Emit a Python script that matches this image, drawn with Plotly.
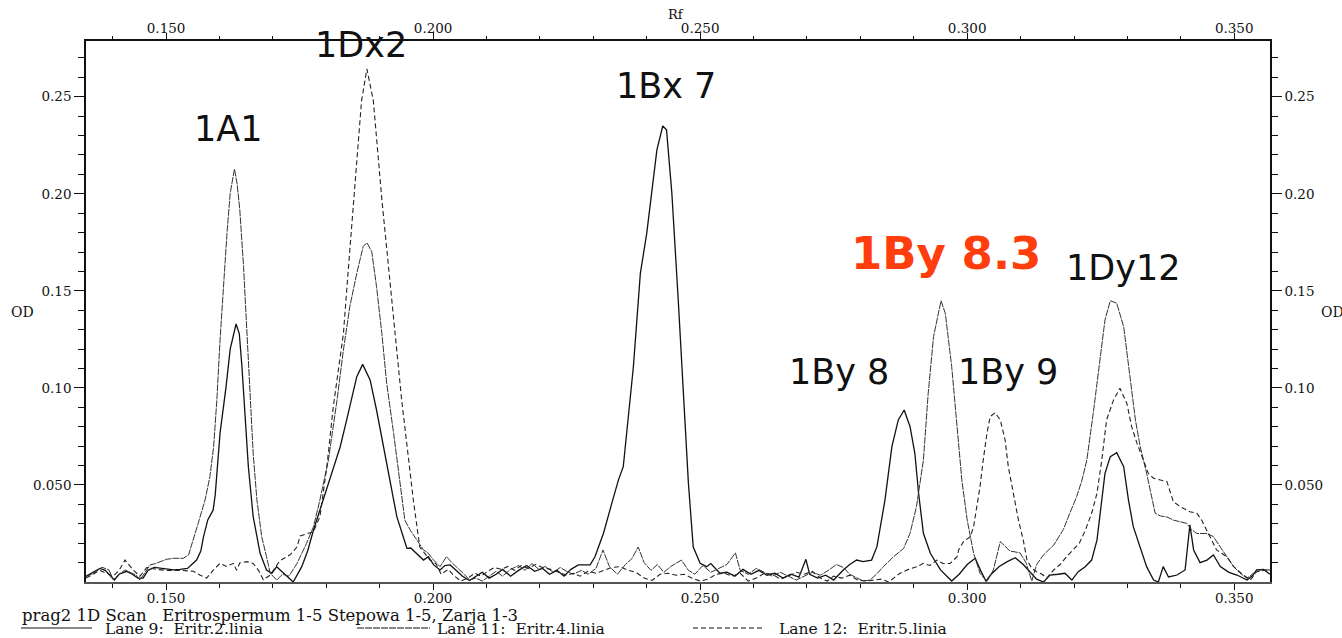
import plotly.graph_objects as go

# ---------------- data ----------------
lane9_rf = [0.1350, 0.1364, 0.1376, 0.1386, 0.1395, 0.1403, 0.1412, 0.1426, 0.1437, 0.1447,
            0.1457, 0.1466, 0.1478, 0.1489, 0.1501, 0.1514, 0.1526, 0.1540, 0.1550, 0.1557,
            0.1565, 0.1570, 0.1578, 0.1588, 0.1592, 0.1601, 0.1612, 0.1620, 0.1631, 0.1637,
            0.1642, 0.1648, 0.1654, 0.1663, 0.1676, 0.1688, 0.1698, 0.1707, 0.1723, 0.1738,
            0.1754, 0.1765, 0.1776, 0.1788, 0.1801, 0.1813, 0.1826, 0.1838, 0.1844, 0.1857,
            0.1868, 0.1882, 0.1894, 0.1907, 0.1919, 0.1932, 0.1944, 0.1951, 0.1958, 0.1969,
            0.1982, 0.1991, 0.2001, 0.2013, 0.2022, 0.2032, 0.2045, 0.2055, 0.2068, 0.2080,
            0.2092, 0.2105, 0.2118, 0.2130, 0.2145, 0.2160, 0.2175, 0.2190, 0.2205, 0.2218,
            0.2232, 0.2245, 0.2258, 0.2272, 0.2285, 0.2294, 0.2303, 0.2319, 0.2334, 0.2347,
            0.2356, 0.2366, 0.2375, 0.2388, 0.2400, 0.2419, 0.2430, 0.2437, 0.2447, 0.2459,
            0.2469, 0.2478, 0.2487, 0.2500, 0.2512, 0.2520, 0.2537, 0.2550, 0.2565, 0.2580,
            0.2595, 0.2610, 0.2625, 0.2640, 0.2655, 0.2670, 0.2685, 0.2698, 0.2705, 0.2720,
            0.2735, 0.2750, 0.2768, 0.2780, 0.2793, 0.2805, 0.2821, 0.2831, 0.2846, 0.2859,
            0.2871, 0.2882, 0.2893, 0.2902, 0.2909, 0.2918, 0.2931, 0.2950, 0.2971, 0.2985,
            0.3000, 0.3015, 0.3025, 0.3035, 0.3045, 0.3060, 0.3075, 0.3090, 0.3105, 0.3118,
            0.3130, 0.3143, 0.3155, 0.3170, 0.3183, 0.3196, 0.3208, 0.3221, 0.3233, 0.3243,
            0.3252, 0.3258, 0.3268, 0.3280, 0.3293, 0.3302, 0.3311, 0.3324, 0.3336, 0.3349,
            0.3358, 0.3367, 0.3377, 0.3393, 0.3408, 0.3417, 0.3424, 0.3436, 0.3449, 0.3461,
            0.3474, 0.3490, 0.3505, 0.3524, 0.3535, 0.3542, 0.3555, 0.3567]
lane9_od = [0.0030, 0.0050, 0.0070, 0.0060, 0.0035, 0.0010, 0.0040, 0.0055, 0.0040, 0.0020,
            0.0020, 0.0060, 0.0075, 0.0070, 0.0068, 0.0062, 0.0065, 0.0070, 0.0095, 0.0113,
            0.0160, 0.0233, 0.0320, 0.0370, 0.0450, 0.0767, 0.1000, 0.1200, 0.1329, 0.1280,
            0.1110, 0.0852, 0.0594, 0.0337, 0.0148, 0.0062, 0.0045, 0.0079, 0.0036, 0.0000,
            0.0079, 0.0160, 0.0268, 0.0371, 0.0474, 0.0577, 0.0697, 0.0834, 0.0903, 0.1058,
            0.1121, 0.1041, 0.0886, 0.0697, 0.0508, 0.0337, 0.0233, 0.0173, 0.0175, 0.0148,
            0.0113, 0.0130, 0.0088, 0.0062, 0.0085, 0.0088, 0.0055, 0.0030, 0.0008, 0.0030,
            0.0050, 0.0020, 0.0040, 0.0065, 0.0030, 0.0060, 0.0085, 0.0055, 0.0070, 0.0040,
            0.0060, 0.0030, 0.0065, 0.0088, 0.0088, 0.0088, 0.0130, 0.0251, 0.0400, 0.0526,
            0.0594, 0.0850, 0.1110, 0.1590, 0.1797, 0.2226, 0.2349, 0.2329, 0.2003, 0.1450,
            0.0940, 0.0509, 0.0180, 0.0096, 0.0079, 0.0095, 0.0045, 0.0050, 0.0030, 0.0065,
            0.0040, 0.0060, 0.0035, 0.0045, 0.0020, 0.0040, 0.0025, 0.0117, 0.0040, 0.0020,
            0.0035, 0.0010, 0.0062, 0.0090, 0.0113, 0.0105, 0.0113, 0.0182, 0.0422, 0.0697,
            0.0835, 0.0886, 0.0800, 0.0663, 0.0457, 0.0251, 0.0148, 0.0062, 0.0005, 0.0040,
            0.0090, 0.0122, 0.0060, 0.0005, 0.0040, 0.0080, 0.0105, 0.0125, 0.0090, 0.0050,
            0.0015, 0.0000, 0.0036, 0.0040, 0.0045, 0.0010, 0.0053, 0.0079, 0.0113, 0.0216,
            0.0422, 0.0560, 0.0646, 0.0666, 0.0594, 0.0422, 0.0285, 0.0180, 0.0079, 0.0010,
            0.0000, 0.0079, 0.0026, 0.0036, 0.0062, 0.0294, 0.0165, 0.0100, 0.0113, 0.0139,
            0.0079, 0.0050, 0.0036, 0.0010, 0.0035, 0.0062, 0.0065, 0.0040]

lane11_rf = [0.1350, 0.1364, 0.1380, 0.1393, 0.1401, 0.1412, 0.1423, 0.1434, 0.1444, 0.1451,
             0.1464, 0.1470, 0.1480, 0.1489, 0.1501, 0.1514, 0.1532, 0.1542, 0.1551, 0.1560,
             0.1573, 0.1582, 0.1589, 0.1595, 0.1601, 0.1607, 0.1614, 0.1620, 0.1628, 0.1633,
             0.1638, 0.1645, 0.1651, 0.1657, 0.1663, 0.1670, 0.1679, 0.1688, 0.1695, 0.1707,
             0.1718, 0.1730, 0.1745, 0.1763, 0.1776, 0.1788, 0.1804, 0.1820, 0.1832, 0.1844,
             0.1857, 0.1869, 0.1876, 0.1885, 0.1894, 0.1904, 0.1913, 0.1926, 0.1938, 0.1947,
             0.1957, 0.1969, 0.1982, 0.1991, 0.2001, 0.2013, 0.2025, 0.2035, 0.2045, 0.2058,
             0.2068, 0.2080, 0.2092, 0.2105, 0.2118, 0.2130, 0.2145, 0.2160, 0.2172, 0.2185,
             0.2198, 0.2210, 0.2225, 0.2238, 0.2250, 0.2262, 0.2278, 0.2290, 0.2305, 0.2318,
             0.2330, 0.2345, 0.2360, 0.2372, 0.2384, 0.2395, 0.2408, 0.2420, 0.2432, 0.2445,
             0.2465, 0.2478, 0.2490, 0.2505, 0.2520, 0.2535, 0.2550, 0.2566, 0.2575, 0.2590,
             0.2605, 0.2620, 0.2635, 0.2650, 0.2665, 0.2680, 0.2695, 0.2710, 0.2725, 0.2740,
             0.2755, 0.2768, 0.2780, 0.2793, 0.2805, 0.2818, 0.2830, 0.2843, 0.2862, 0.2881,
             0.2893, 0.2905, 0.2918, 0.2927, 0.2937, 0.2951, 0.2959, 0.2971, 0.2981, 0.2990,
             0.3000, 0.3012, 0.3024, 0.3037, 0.3049, 0.3062, 0.3080, 0.3099, 0.3110, 0.3121,
             0.3130, 0.3143, 0.3162, 0.3180, 0.3193, 0.3205, 0.3215, 0.3224, 0.3236, 0.3249,
             0.3258, 0.3268, 0.3280, 0.3293, 0.3305, 0.3315, 0.3324, 0.3336, 0.3352, 0.3362,
             0.3374, 0.3386, 0.3399, 0.3411, 0.3420, 0.3430, 0.3449, 0.3461, 0.3474, 0.3486,
             0.3499, 0.3511, 0.3524, 0.3536, 0.3549, 0.3567]
lane11_od = [0.0028, 0.0045, 0.0076, 0.0062, 0.0012, 0.0040, 0.0062, 0.0050, 0.0035, 0.0010,
             0.0062, 0.0088, 0.0095, 0.0105, 0.0117, 0.0122, 0.0122, 0.0139, 0.0216, 0.0302,
             0.0423, 0.0543, 0.0697, 0.0937, 0.1247, 0.1522, 0.1796, 0.2002, 0.2128, 0.2050,
             0.1917, 0.1625, 0.1280, 0.0937, 0.0663, 0.0423, 0.0234, 0.0130, 0.0045, 0.0010,
             0.0040, 0.0030, 0.0095, 0.0199, 0.0285, 0.0423, 0.0629, 0.0937, 0.1195, 0.1419,
             0.1590, 0.1728, 0.1748, 0.1702, 0.1522, 0.1280, 0.1024, 0.0766, 0.0508, 0.0319,
             0.0268, 0.0216, 0.0165, 0.0148, 0.0113, 0.0079, 0.0131, 0.0100, 0.0075, 0.0040,
             0.0010, 0.0020, 0.0005, 0.0030, 0.0055, 0.0030, 0.0065, 0.0085, 0.0060, 0.0095,
             0.0065, 0.0080, 0.0050, 0.0075, 0.0055, 0.0040, 0.0060, 0.0040, 0.0070, 0.0165,
             0.0080, 0.0040, 0.0090, 0.0120, 0.0180, 0.0100, 0.0060, 0.0090, 0.0050, 0.0080,
             0.0113, 0.0060, 0.0040, 0.0085, 0.0050, 0.0070, 0.0090, 0.0150, 0.0060, 0.0040,
             0.0070, 0.0050, 0.0030, 0.0050, 0.0030, 0.0010, 0.0030, 0.0050, 0.0035, 0.0060,
             0.0090, 0.0075, 0.0040, 0.0020, 0.0005, 0.0010, 0.0040, 0.0079, 0.0130, 0.0173,
             0.0251, 0.0388, 0.0628, 0.0972, 0.1264, 0.1449, 0.1384, 0.1110, 0.0800, 0.0525,
             0.0319, 0.0148, 0.0045, 0.0002, 0.0062, 0.0208, 0.0160, 0.0150, 0.0100, 0.0005,
             0.0090, 0.0140, 0.0190, 0.0270, 0.0360, 0.0440, 0.0525, 0.0628, 0.0869, 0.1140,
             0.1350, 0.1449, 0.1436, 0.1315, 0.1060, 0.0835, 0.0697, 0.0560, 0.0354, 0.0340,
             0.0335, 0.0319, 0.0310, 0.0302, 0.0270, 0.0250, 0.0250, 0.0234, 0.0180, 0.0130,
             0.0079, 0.0045, 0.0020, 0.0045, 0.0062, 0.0062]

lane12_rf = [0.1350, 0.1376, 0.1401, 0.1412, 0.1423, 0.1432, 0.1439, 0.1451, 0.1464, 0.1482,
             0.1501, 0.1526, 0.1551, 0.1563, 0.1576, 0.1588, 0.1601, 0.1613, 0.1626, 0.1632,
             0.1638, 0.1651, 0.1663, 0.1673, 0.1682, 0.1695, 0.1713, 0.1732, 0.1745, 0.1751,
             0.1765, 0.1776, 0.1788, 0.1801, 0.1813, 0.1832, 0.1844, 0.1857, 0.1866, 0.1876,
             0.1888, 0.1904, 0.1922, 0.1941, 0.1963, 0.1975, 0.1985, 0.1994, 0.2005, 0.2015,
             0.2028, 0.2040, 0.2052, 0.2065, 0.2078, 0.2090, 0.2102, 0.2115, 0.2128, 0.2140,
             0.2152, 0.2165, 0.2178, 0.2192, 0.2205, 0.2220, 0.2235, 0.2250, 0.2262, 0.2275,
             0.2290, 0.2305, 0.2320, 0.2335, 0.2350, 0.2365, 0.2380, 0.2395, 0.2410, 0.2425,
             0.2440, 0.2455, 0.2470, 0.2485, 0.2500, 0.2515, 0.2530, 0.2545, 0.2560, 0.2575,
             0.2590, 0.2605, 0.2620, 0.2635, 0.2650, 0.2665, 0.2680, 0.2695, 0.2710, 0.2725,
             0.2738, 0.2750, 0.2765, 0.2780, 0.2795, 0.2810, 0.2825, 0.2840, 0.2853, 0.2862,
             0.2874, 0.2890, 0.2906, 0.2918, 0.2930, 0.2943, 0.2955, 0.2968, 0.2981, 0.2984,
             0.2993, 0.3006, 0.3012, 0.3018, 0.3024, 0.3030, 0.3037, 0.3043, 0.3052, 0.3062,
             0.3071, 0.3077, 0.3087, 0.3096, 0.3105, 0.3112, 0.3121, 0.3130, 0.3140, 0.3149,
             0.3162, 0.3174, 0.3186, 0.3199, 0.3210, 0.3221, 0.3233, 0.3243, 0.3252, 0.3261,
             0.3274, 0.3286, 0.3299, 0.3308, 0.3318, 0.3330, 0.3339, 0.3349, 0.3362, 0.3374,
             0.3386, 0.3399, 0.3417, 0.3430, 0.3439, 0.3455, 0.3467, 0.3486, 0.3499, 0.3517,
             0.3530, 0.3542, 0.3561, 0.3567]
lane12_od = [0.0020, 0.0060, 0.0030, 0.0060, 0.0113, 0.0080, 0.0060, 0.0030, 0.0075, 0.0065,
             0.0060, 0.0060, 0.0055, 0.0036, 0.0020, 0.0060, 0.0096, 0.0080, 0.0096, 0.0060,
             0.0098, 0.0105, 0.0096, 0.0060, 0.0012, 0.0036, 0.0110, 0.0140, 0.0180, 0.0237,
             0.0250, 0.0260, 0.0337, 0.0594, 0.0903, 0.1280, 0.1710, 0.2140, 0.2480, 0.2643,
             0.2480, 0.1970, 0.1450, 0.0940, 0.0420, 0.0180, 0.0145, 0.0113, 0.0095, 0.0040,
             0.0065, 0.0030, 0.0005, 0.0020, 0.0045, 0.0030, 0.0055, 0.0075, 0.0065, 0.0080,
             0.0060, 0.0085, 0.0070, 0.0090, 0.0075, 0.0065, 0.0050, 0.0035, 0.0045, 0.0030,
             0.0055, 0.0045, 0.0060, 0.0075, 0.0079, 0.0060, 0.0050, 0.0020, 0.0008, 0.0040,
             0.0045, 0.0035, 0.0040, 0.0020, 0.0005, 0.0015, 0.0040, 0.0045, 0.0030, 0.0045,
             0.0005, 0.0020, 0.0045, 0.0040, 0.0015, 0.0030, 0.0050, 0.0040, 0.0055, 0.0020,
             0.0005, 0.0030, 0.0020, 0.0035, 0.0010, 0.0005, 0.0010, 0.0015, 0.0000, 0.0020,
             0.0045, 0.0065, 0.0079, 0.0096, 0.0085, 0.0113, 0.0095, 0.0096, 0.0130, 0.0165,
             0.0208, 0.0233, 0.0285, 0.0388, 0.0491, 0.0628, 0.0766, 0.0852, 0.0872, 0.0835,
             0.0731, 0.0594, 0.0457, 0.0319, 0.0216, 0.0113, 0.0070, 0.0053, 0.0040, 0.0020,
             0.0062, 0.0090, 0.0130, 0.0165, 0.0200, 0.0265, 0.0354, 0.0457, 0.0628, 0.0835,
             0.0937, 0.0998, 0.0920, 0.0800, 0.0714, 0.0628, 0.0560, 0.0534, 0.0525, 0.0517,
             0.0414, 0.0388, 0.0362, 0.0354, 0.0319, 0.0234, 0.0165, 0.0130, 0.0079, 0.0036,
             0.0010, 0.0053, 0.0062, 0.0060]

lane_names = ["Lane 9:\u00a0\u00a0Eritr.2.linia", "Lane 11:\u00a0\u00a0Eritr.4.linia",
              "Lane 12:\u00a0\u00a0Eritr.5.linia"]

peak_labels = ["1A1", "1Dx2", "1Bx 7", "1By 8", "1By 9", "1Dy12"]
peak_label_rf = [0.1616, 0.1865, 0.2436, 0.2760, 0.3077, 0.3292]
peak_label_od = [0.2334, 0.2767, 0.2555, 0.1082, 0.1082, 0.1618]

highlight_label = "1By 8.3"
highlight_rf = 0.2960
highlight_od = 0.1690

x_tick_vals = [0.150, 0.200, 0.250, 0.300, 0.350]
x_tick_text = ["0.150", "0.200", "0.250", "0.300", "0.350"]
y_tick_vals = [0.05, 0.10, 0.15, 0.20, 0.25]
y_tick_text = ["0.050", "0.10", "0.15", "0.20", "0.25"]

caption = "prag2 1D Scan\u00a0\u00a0 Eritrospermum 1-5 Stepowa 1-5, Zarja 1-3"

# ---------------- layout constants ----------------
W, H = 1342, 638
ML, MR, MT, MB = 86, 72, 41, 56
X_RANGE = [0.1350, 0.3567]
Y_RANGE = [0.0, 0.2787]


def pxx(p):
    return (p - ML) / (W - ML - MR)


def pxy(p):
    return (H - MB - p) / (H - MT - MB)


SERIF = "DejaVu Serif"
SANS = "DejaVu Sans"

fig = go.Figure()
styles = [
    dict(color="#111111", width=1.3),
    dict(color="#333333", width=1.0, dash="7px,1px"),
    dict(color="#222222", width=1.1, dash="5px,3px"),
]
for rf, od, name, st in zip([lane9_rf, lane11_rf, lane12_rf],
                            [lane9_od, lane11_od, lane12_od], lane_names, styles):
    fig.add_trace(go.Scatter(x=rf, y=od, mode="lines", name=name, line=st,
                             showlegend=False, hoverinfo="skip"))

# invisible trace to bring up the mirrored top/right axes
fig.add_trace(go.Scatter(x=[lane9_rf[0]], y=[lane9_od[0]], xaxis="x2", yaxis="y2",
                         mode="markers", marker=dict(size=1, opacity=0),
                         showlegend=False, hoverinfo="skip"))

x_minor = [round(0.14 + 0.01 * i, 2) for i in range(22)]
y_minor = [round(0.01 * i, 2) for i in range(1, 28)]

tick_font = dict(family=SERIF, size=13.5, color="#111")
axis_common = dict(showgrid=False, zeroline=False, showline=True, ticks="outside",
                   tickcolor="#111", tickfont=tick_font, automargin=False)

fig.update_layout(
    width=W, height=H,
    margin=dict(l=ML, r=MR, t=MT, b=MB, pad=0, autoexpand=False),
    paper_bgcolor="white", plot_bgcolor="white",
    xaxis=dict(range=X_RANGE, tickmode="array", tickvals=x_tick_vals, ticktext=x_tick_text,
               ticklen=6, tickwidth=1.2, linecolor="#555", linewidth=2, ticklabelstandoff=-3,
               minor=dict(tickmode="array", tickvals=x_minor, ticklen=4, ticks="outside",
                          tickcolor="#111", tickwidth=1),
               **axis_common),
    xaxis2=dict(range=X_RANGE, overlaying="x", side="top", anchor="y", tickmode="array",
                tickvals=x_tick_vals, ticktext=x_tick_text, ticklen=6, tickwidth=1.2,
                linecolor="#111", linewidth=1.5, ticklabelstandoff=-5,
                minor=dict(tickmode="array", tickvals=x_minor, ticklen=3, ticks="outside",
                           tickcolor="#111", tickwidth=1),
                **axis_common),
    yaxis=dict(range=Y_RANGE, tickmode="array", tickvals=y_tick_vals, ticktext=y_tick_text,
               ticklen=10, tickwidth=1.2, linecolor="#111", linewidth=1.5,
               minor=dict(tickmode="array", tickvals=y_minor, ticklen=6, ticks="outside",
                          tickcolor="#111", tickwidth=1),
               **axis_common),
    yaxis2=dict(range=Y_RANGE, overlaying="y", side="right", anchor="x", tickmode="array",
                tickvals=y_tick_vals, ticktext=y_tick_text, ticklen=10, tickwidth=1.2,
                linecolor="#111", linewidth=1.5,
                minor=dict(tickmode="array", tickvals=y_minor, ticklen=6, ticks="outside",
                           tickcolor="#111", tickwidth=1),
                **axis_common),
)

ann = []
for t, xr, yr in zip(peak_labels, peak_label_rf, peak_label_od):
    ann.append(dict(text=t, x=xr, y=yr, xref="x", yref="y", showarrow=False,
                    xanchor="center", yanchor="middle",
                    font=dict(family=SANS, size=35, color="#111")))
ann.append(dict(text="<b>" + highlight_label + "</b>", x=highlight_rf, y=highlight_od,
                xref="x", yref="y", showarrow=False, xanchor="center", yanchor="middle",
                font=dict(family=SANS, size=45, color="#ff3d0d")))

# axis titles
ann.append(dict(text="Rf", x=pxx(676), y=pxy(14), xref="paper", yref="paper", showarrow=False,
                xanchor="center", yanchor="middle", font=dict(family=SERIF, size=13, color="#111")))
ann.append(dict(text="OD", x=pxx(22), y=pxy(312), xref="paper", yref="paper", showarrow=False,
                xanchor="center", yanchor="middle", font=dict(family=SERIF, size=14, color="#111")))
ann.append(dict(text="OD", x=pxx(1319), y=pxy(312), xref="paper", yref="paper", showarrow=False,
                xanchor="left", yanchor="middle", font=dict(family=SERIF, size=14, color="#111")))

# caption and lane key
ann.append(dict(text=caption, x=pxx(20), y=pxy(615), xref="paper", yref="paper", showarrow=False,
                xanchor="left", yanchor="middle", font=dict(family=SERIF, size=16.5, color="#111")))
key_line_px = [(21, 92), (357, 430), (693, 765)]
key_text_px = [103, 435, 777]
key_dash = ["solid", "7px,1px", "5px,3px"]
shapes = []
for name, (a, b), tx, dsh in zip(lane_names, key_line_px, key_text_px, key_dash):
    ann.append(dict(text=name, x=pxx(tx), y=pxy(629), xref="paper", yref="paper",
                    showarrow=False, xanchor="left", yanchor="middle",
                    font=dict(family=SERIF, size=15.5, color="#111")))
    shapes.append(dict(type="line", xref="paper", yref="paper", x0=pxx(a), x1=pxx(b),
                       y0=pxy(628), y1=pxy(628), line=dict(color="#111", width=1.1, dash=dsh)))

fig.update_layout(annotations=ann, shapes=shapes)

fig.write_html("out.html", config={"displayModeBar": False},
               post_script="document.body.style.margin='0';document.body.style.overflow='hidden';")
